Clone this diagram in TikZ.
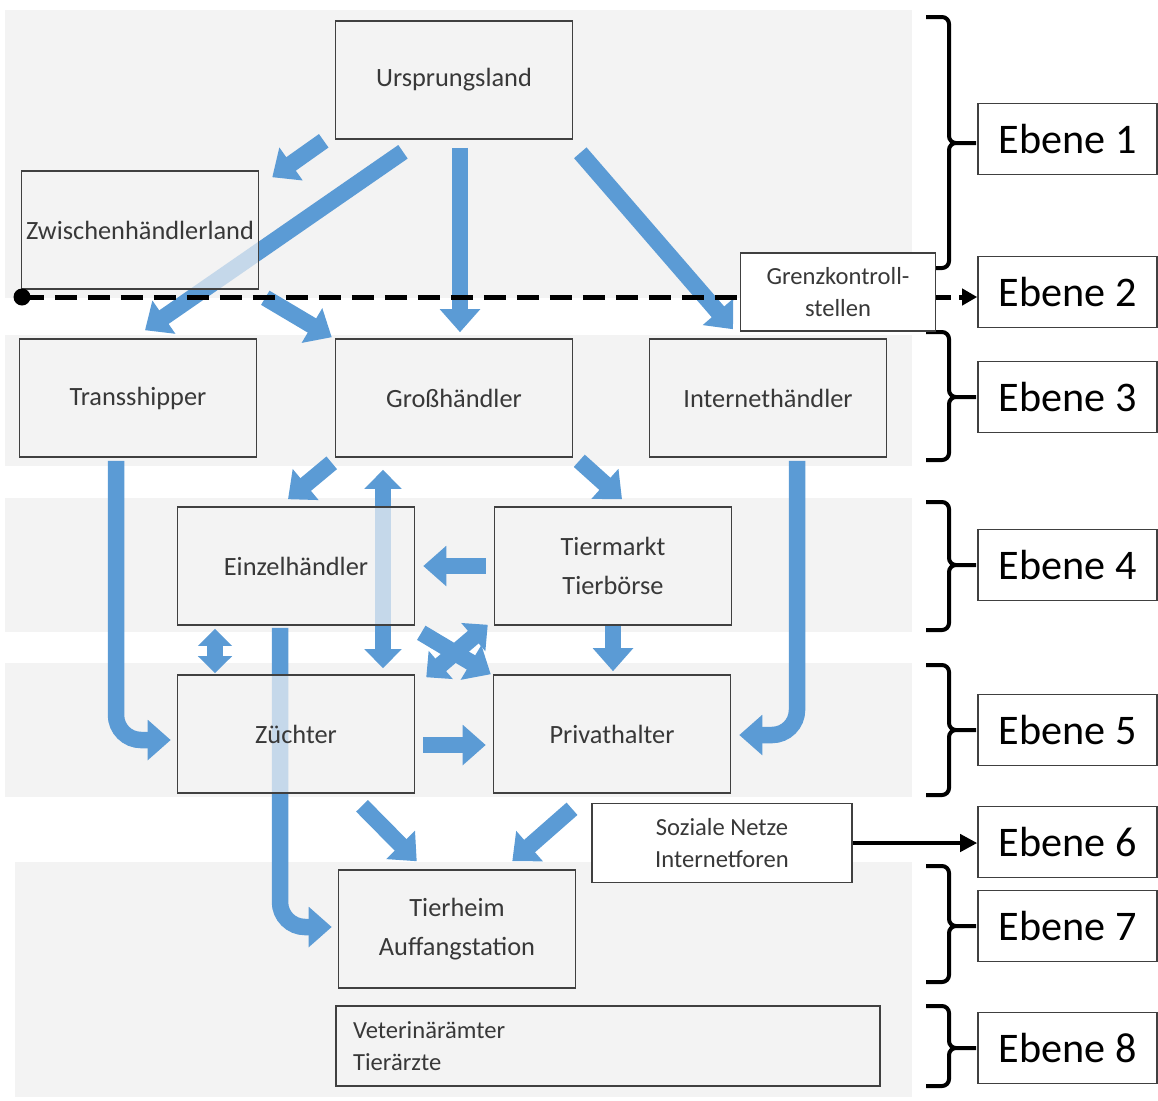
\documentclass[tikz,border=0pt]{standalone}
\usepackage{fontspec}
\setmainfont{Carlito}
\usetikzlibrary{arrows.meta,calc}
\definecolor{flowblue}{HTML}{5B9BD5}
\definecolor{bandgray}{HTML}{F3F3F3}
\definecolor{boxline}{HTML}{404040}
\pgfdeclarelayer{bands}
\pgfdeclarelayer{flows}
\pgfsetlayers{bands,flows,main}

\begin{document}
\begin{tikzpicture}[x=0.02cm, y=-0.02cm,
    stage/.style={draw=boxline, line width=0.9pt, fill=bandgray, fill opacity=0.7, text opacity=1, inner xsep=1pt, minimum width=4.74cm, minimum height=2.36cm, align=center, text=black!78, font=\fontsize{15}{22}\selectfont},
    note/.style={draw=boxline, line width=0.9pt, fill=white, align=center, text=black!78, font=\fontsize{14}{18}\selectfont},
    ebene/.style={draw=boxline, line width=0.9pt, fill=white, minimum width=3.58cm, minimum height=1.42cm, font=\fontsize{24}{28}\selectfont},
    flow/.style={draw=flowblue, line width=0.33cm, -{Triangle[width=0.78cm,length=0.46cm]}},
    biflow/.style={draw=flowblue, line width=0.33cm, {Triangle[width=0.72cm,length=0.38cm]}-{Triangle[width=0.72cm,length=0.38cm]}},
    level/.style={line width=0.08cm, rounded corners=0.14cm}]
    \useasboundingbox (0,0) rectangle (1158,1100);

    % Hintergrundstreifen
    \begin{pgfonlayer}{bands}
        \foreach \xa/\ya/\yb in {5/10/298, 5/335/466, 5/498/632, 5/663/797, 15/862/1097}
            \fill[bandgray] (\xa,\ya) rectangle (912,\yb);
    \end{pgfonlayer}

    % Stationen
    \node[stage] (urs) at (454,80) {Ursprungsland};
    \node[stage] (zw) at (140,230) {Zwischenhändlerland};
    \node[stage] (trans) at (138,398) {Transshipper};
    \node[stage] (gro) at (454,398) {Großhändler};
    \node[stage] (inet) at (768,398) {Internethändler};
    \node[stage] (einz) at (296,566) {Einzelhändler};
    \node[stage] (tier) at (613,566) {Tiermarkt\\Tierbörse};
    \node[stage] (zue) at (296,734) {Züchter};
    \node[stage] (priv) at (612,734) {Privathalter};
    \node[stage] (heim) at (457,929) {Tierheim\\Auffangstation};
    \node[stage, minimum width=10.88cm, minimum height=1.6cm, text width=10.2cm, align=left, font=\fontsize{14}{18}\selectfont] (vet) at (608,1046) {Veterinärämter\\Tierärzte};

    % Ebenen
    \foreach \n/\y in {1/139, 2/292, 3/397, 4/565, 5/730, 6/842, 7/926, 8/1048}
        \node[ebene] (eb\n) at (1067.5,\y) {Ebene \n};
    \foreach \ya/\ym/\yb in {17/143/268, 332/397/460, 502/565/630, 665/730/795, 866/926/982, 1006/1048/1086}
        \draw[level] (926,\ya) -- (949,\ya) -- (949,\ym) -- (976,\ym) (976,\ym) -- (949,\ym) -- (949,\yb) -- (926,\yb);

    % Handelswege
    \begin{pgfonlayer}{flows}
        \draw[flow] ($(urs.south west)+(-11,1)$) -- ($(zw.north east)+(13,7)$);
        \draw[flow] ($(urs.south)+(-51,12)$) -- ($(trans.north)+(7,-8)$);
        \draw[flow] ($(urs.south)+(6,8)$) -- ($(gro.north)+(6,-6)$);
        \draw[flow] ($(urs.south east)+(7,13)$) -- ($(inet.north)+(-35,-9)$);
        \draw[flow] ($(zw.south east)+(6,8)$) -- ($(gro.north west)+(-3,-1)$);
        \draw[flow, rounded corners=0.5cm] ($(trans.south)+(-22,3)$) |- ($(zue.west)+(-6,6)$);
        \draw[flow, rounded corners=0.5cm] ($(inet.south)+(29,3)$) |- ($(priv.east)+(8,1)$);
        \draw[flow] ($(gro.south west)+(-3,5)$) -- ($(einz.north)+(-8,-7)$);
        \draw[biflow] ($(gro.south)+(-71,12)$) -- ($(zue.north)+(87,-6)$);
        \draw[flow] ($(gro.south east)+(6,3)$) -- ($(tier.north)+(9,-7)$);
        \draw[flow] ($(tier.west)+(-8,0)$) -- ($(einz.east)+(8,0)$);
        \draw[biflow, {Triangle[width=0.66cm,length=0.34cm]}-{Triangle[width=0.66cm,length=0.34cm]}] ($(einz.south)+(-81,3)$) -- ($(zue.north)+(-81,-1)$);
        \draw[flow, rounded corners=0.5cm] ($(einz.south)+(-16,2)$) |- ($(heim.west)+(-6,-2)$);
        \draw[flow] ($(einz.south east)+(6,7)$) -- ($(priv.north west)+(-2,0)$);
        \draw[biflow] ($(zue.north east)+(11,3)$) -- ($(tier.south west)+(-6,-1)$);
        \draw[flow] ($(zue.east)+(8,11)$) -- ($(priv.west)+(-7,11)$);
        \draw[flow] ($(tier.south)+(0,-1)$) -- ($(priv.north)+(1,-3)$);
        \draw[flow] ($(zue.south)+(66,12)$) -- ($(heim.north west)+(79,-8)$);
        \draw[flow] ($(priv.south)+(-40,15)$) -- ($(heim.north east)+(-64,-8)$);
    \end{pgfonlayer}

    % Grenze
    \node[note, minimum width=3.9cm, minimum height=1.56cm] (grenz) at (838,292) {Grenzkontroll-\\stellen};
    \coordinate (dot) at (22,297);
    \fill (dot) circle (0.17cm);
    \draw[line width=0.1cm, dash pattern=on 0.44cm off 0.22cm] (dot) -- (grenz.west |- dot);
    \draw[line width=0.1cm, dash pattern=on 0.3cm off 0.16cm, -{Triangle[width=0.32cm,length=0.3cm]}] (grenz.east |- dot) -- (eb2.west |- dot);

    % Soziale Netze
    \node[note, minimum width=5.2cm, minimum height=1.58cm] (soz) at (722,843) {Soziale Netze\\Internetforen};
    \draw[line width=0.08cm, -{Triangle[width=0.34cm,length=0.34cm]}] (soz.east) -- (eb6.west |- soz.east);
\end{tikzpicture}
\end{document}
